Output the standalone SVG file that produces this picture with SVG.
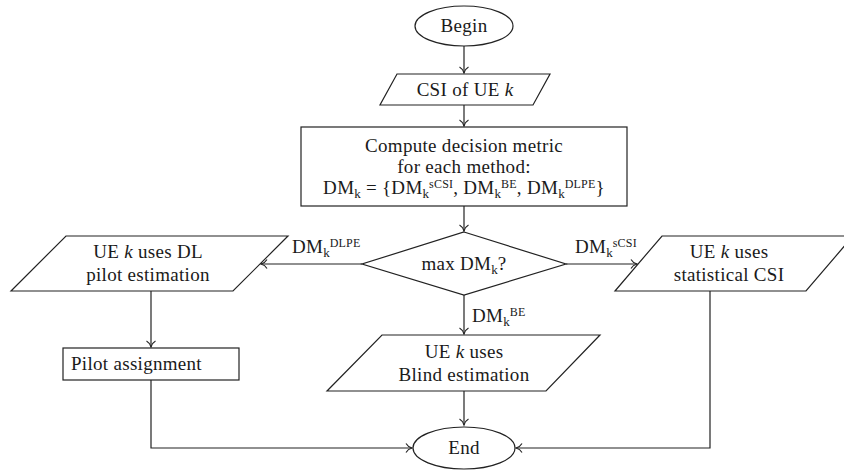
<svg xmlns="http://www.w3.org/2000/svg" width="844" height="471" viewBox="0 0 844 471">
  <style>
    .shape { fill: #ffffff; stroke: #222222; stroke-width: 1.2; }
    .edge { fill: none; stroke: #222222; stroke-width: 1.2; }
    text { font-family: "Liberation Serif", "Times New Roman", serif; font-size: 19px; letter-spacing: 0.3px; fill: #1a1a1a; }
    .c { text-anchor: middle; }
    .sub { font-size: 13px; letter-spacing: 0; }
    .sup { font-size: 12px; letter-spacing: 0.2px; }
    .it { font-style: italic; }
  </style>
  <defs>
    <marker id="arrow" markerWidth="12" markerHeight="12" refX="0" refY="0" viewBox="-7 -6 8 12" orient="auto" markerUnits="userSpaceOnUse">
      <path d="M -6 -4.5 C -4.5 -1.8 -1.8 -0.5 0 0 C -1.8 0.5 -4.5 1.8 -6 4.5" fill="none" stroke="#222222" stroke-width="1.1"/>
    </marker>
  </defs>

  <!-- connectors -->
  <g id="connectors">
    <path class="edge" d="M 464 46 L 464 73" marker-end="url(#arrow)"/>
    <path class="edge" d="M 464 105 L 464 126" marker-end="url(#arrow)"/>
    <path class="edge" d="M 464 206 L 464 231" marker-end="url(#arrow)"/>
    <path class="edge" d="M 362 264 L 261 264" marker-end="url(#arrow)"/>
    <path class="edge" d="M 566 264 L 637 264" marker-end="url(#arrow)"/>
    <path class="edge" d="M 464 295 L 464 334" marker-end="url(#arrow)"/>
    <path class="edge" d="M 151 291 L 151 347" marker-end="url(#arrow)"/>
    <path class="edge" d="M 151 380 L 151 448 L 412 448" marker-end="url(#arrow)"/>
    <path class="edge" d="M 710 291 L 710 448 L 516 448" marker-end="url(#arrow)"/>
    <path class="edge" d="M 464 391 L 464 425" marker-end="url(#arrow)"/>

    <text x="292" y="253">DM<tspan class="sub" dy="4">k</tspan><tspan class="sup" dy="-10">DLPE</tspan></text>
    <text x="575" y="253">DM<tspan class="sub" dy="4">k</tspan><tspan class="sup" dy="-10">sCSI</tspan></text>
    <text x="472" y="322">DM<tspan class="sub" dy="4">k</tspan><tspan class="sup" dy="-10">BE</tspan></text>
  </g>

  <!-- start -->
  <g id="begin">
    <ellipse class="shape" cx="464" cy="26" rx="49" ry="20"/>
    <text class="c" x="464" y="32">Begin</text>
  </g>

  <!-- input -->
  <g id="csi-input">
    <polygon class="shape" points="397,74 550,74 533,105 380,105"/>
    <text class="c" x="465" y="96">CSI of UE <tspan class="it">k</tspan></text>
  </g>

  <!-- metric computation -->
  <g id="compute-metric">
    <rect class="shape" x="301" y="127" width="326" height="79"/>
    <text class="c" x="464" y="152">Compute decision metric</text>
    <text class="c" x="464" y="173">for each method:</text>
    <text class="c" x="464" y="194">DM<tspan class="sub" dy="4">k</tspan><tspan dy="-4"> = {DM</tspan><tspan class="sub" dy="4">k</tspan><tspan class="sup" dy="-10">sCSI</tspan><tspan dy="6">, DM</tspan><tspan class="sub" dy="4">k</tspan><tspan class="sup" dy="-10">BE</tspan><tspan dy="6">, DM</tspan><tspan class="sub" dy="4">k</tspan><tspan class="sup" dy="-10">DLPE</tspan><tspan dy="6">}</tspan></text>
  </g>

  <!-- decision -->
  <g id="decision">
    <polygon class="shape" points="464,232 566,264 464,295 362,264"/>
    <text class="c" x="464" y="270">max DM<tspan class="sub" dy="4">k</tspan><tspan dy="-4">?</tspan></text>
  </g>

  <!-- DL pilot estimation branch -->
  <g id="dl-pilot">
    <polygon class="shape" points="66,236 288,236 233,291 11,291"/>
    <text class="c" x="148" y="258">UE <tspan class="it">k</tspan> uses DL</text>
    <text class="c" x="148" y="281">pilot estimation</text>
  </g>

  <g id="pilot-assignment">
    <rect class="shape" x="63" y="348" width="176" height="32"/>
    <text x="71" y="370">Pilot assignment</text>
  </g>

  <!-- statistical CSI branch -->
  <g id="statistical-csi">
    <polygon class="shape" points="662,236 853,236 806,291 615,291"/>
    <text class="c" x="729" y="258">UE <tspan class="it">k</tspan> uses</text>
    <text class="c" x="729" y="281">statistical CSI</text>
  </g>

  <!-- blind estimation branch -->
  <g id="blind-estimation">
    <polygon class="shape" points="382,335 600,335 546,391 327,391"/>
    <text class="c" x="464" y="358">UE <tspan class="it">k</tspan> uses</text>
    <text class="c" x="464" y="381">Blind estimation</text>
  </g>

  <!-- end -->
  <g id="end">
    <ellipse class="shape" cx="464" cy="448" rx="51" ry="21"/>
    <text class="c" x="464" y="454">End</text>
  </g>
</svg>
